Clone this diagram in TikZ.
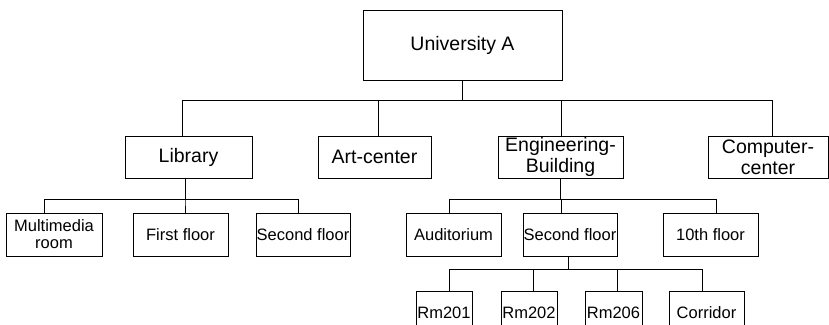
\documentclass[tikz,border=0pt]{standalone}
\usepackage{fontspec}
\setmainfont{Liberation Sans}
\tikzstyle{unit}=[draw,line width=1pt,inner sep=0pt,minimum height=42pt,align=center,font=\fontsize{19.5}{21}\selectfont]
\tikzstyle{room}=[unit,minimum height=43pt,font=\fontsize{16.5}{17}\selectfont]
\tikzstyle{branch}=[draw,line width=1pt]

\begin{document}
\begin{tikzpicture}[x=1pt,y=-1pt]
    \useasboundingbox (0,0) rectangle (829,324);

    \node[unit,minimum width=199pt,minimum height=70pt] (uni) at (462.5,45) {University A};

    % buildings
    \foreach \pos/\w/\name/\txt in {{(188.5,157)/127/lib/Library}, {(374.5,157)/113/art/Art-center}, {(560.5,157)/125/eng/Engineering-\\Building}, {(768,157)/120/comp/Computer-\\center}}
        \node[unit,minimum width=\w pt] (\name) at \pos {\txt};

    % floors and halls
    \foreach \pos/\w/\name/\txt in {{(54,234.5)/96/mm/Multimedia\\room}, {(180.5,234.5)/95/ff/First floor}, {(303,234.5)/94/sfl/Second floor}, {(453.5,234.5)/95/aud/Auditorium}, {(570,234.5)/94/sfe/Second floor}, {(710.5,234.5)/95/tenth/10th floor}}
        \node[room,minimum width=\w pt] (\name) at \pos {\txt};

    % rooms
    \foreach \pos/\w/\name/\txt in {{(444,312.5)/56/r201/Rm201}, {(529,312.5)/56/r202/Rm202}, {(613.5,312.5)/57/r206/Rm206}, {(706.5,312.5)/75/corr/Corridor}}
        \node[room,minimum width=\w pt] (\name) at \pos {\txt};

    % tree lines
    \foreach \dest/\dx in {lib/-6.5, art/3.5, eng/0.5, comp/4}
        \path[branch] (uni.south) -- ++(0,20) -| ([xshift=\dx pt]\dest.north);
    \foreach \dest/\dx in {mm/-10, ff/4.5, sfl/-5}
        \path[branch] ([xshift=-3.5pt]lib.south) -- ++(0,21) -| ([xshift=\dx pt]\dest.north);
    \foreach \dest/\dx in {aud/-4.5, sfe/-9, tenth/5.5}
        \path[branch] (eng.south) -- ++(0,21) -| ([xshift=\dx pt]\dest.north);
    \foreach \dest/\dx in {r201/5, r202/4, r206/3.5, corr/-4.5}
        \path[branch] ([xshift=-2pt]sfe.south) -- ++(0,13) -| ([xshift=\dx pt]\dest.north);

\end{tikzpicture}
\end{document}
